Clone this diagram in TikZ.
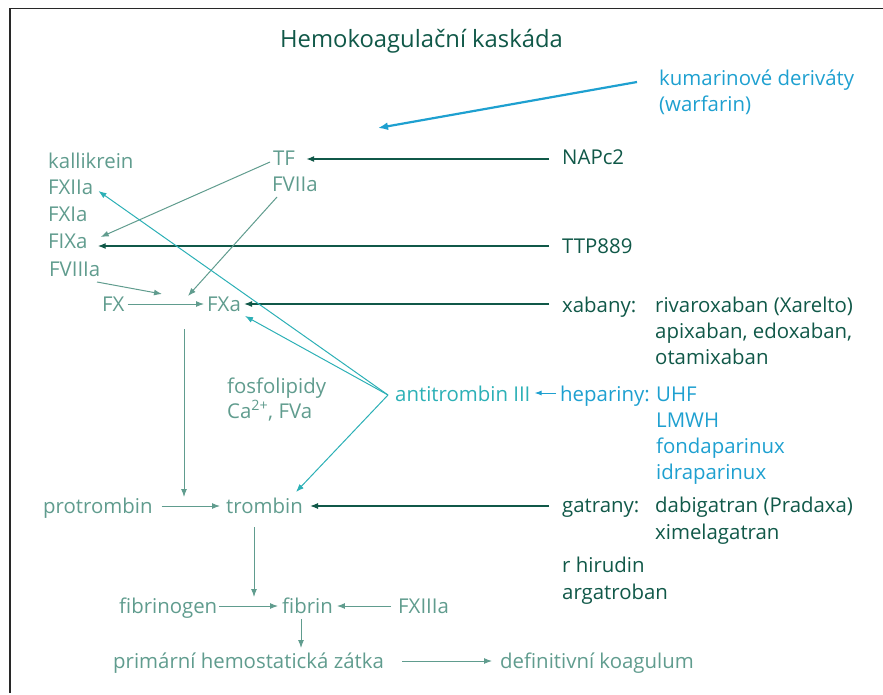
\documentclass[tikz,border=0pt]{standalone}
\usepackage{fontspec}
\setmainfont{Open Sans}
\usetikzlibrary{arrows.meta,calc}
\definecolor{dkg}{RGB}{16,88,72}
\definecolor{lgr}{RGB}{96,156,142}
\definecolor{cyn}{RGB}{44,176,182}
\definecolor{blu}{RGB}{30,160,208}
\definecolor{frm}{RGB}{40,40,40}
\begin{document}
\begin{tikzpicture}[x=1pt,y=-1pt,
  lbl/.style={anchor=base west,inner sep=0pt,font=\fontsize{20.4}{24}\selectfont},
  dk/.style={lbl,text=dkg},
  lg/.style={lbl,text=lgr},
  cy/.style={lbl,text=cyn},
  bl/.style={lbl,text=blu},
  darr/.style={draw=dkg,line width=1.2pt,-{Latex[length=8pt,width=6pt]}},
  garr/.style={draw=lgr,line width=1pt,-{Latex[length=8pt,width=6pt]}},
  carr/.style={draw=cyn,line width=1pt,-{Latex[length=8pt,width=6pt]}},
  barr/.style={draw=blu,line width=1pt,-{Latex[length=7pt,width=5pt]}},
  karr/.style={draw=blu,line width=2.2pt,-{Latex[length=10pt,width=8pt]}},
  frame/.style={draw=frm,line width=1.5pt}]
\useasboundingbox (0,0) rectangle (883,695);
\draw[frame] (10,693) -- (10,8.5) -- (883,8.5);
% title
\node[anchor=base,inner sep=0pt,text=dkg,font=\fontsize{23.8}{28}\selectfont] (title) at (421.5,48) {Hemokoagulační kaskáda};
% kumarin
\node[bl] (kum1) at (659,86) {kumarinové deriváty};
\node[bl] (kum2) at (659,112) {(warfarin)};
\coordinate (kumtip) at (378,128);
% left column
\node[lg] (kal) at (48,169) {kallikrein};
\node[lg] (fxiia) at (48,195) {FXIIa};
\node[lg] (fxia) at (48,222) {FXIa};
\node[lg] (fixa) at (48,248) {FIXa};
\node[lg] (fviiia) at (49,276) {FVIIIa};
\node[lg] (tf) at (273,166) {TF};
\node[lg] (fviia) at (272,192) {FVIIa};
\node[lg] (fx) at (102,311) {FX};
\node[lg] (fxa) at (207,311) {FXa};
\node[lg] (fos) at (227,393) {fosfolipidy};
\node[lg] (ca) at (227,418) {Ca\textsuperscript{2+}, FVa};
\node[lg] (protr) at (43,513) {protrombin};
\node[lg] (tromb) at (226,513) {trombin};
\node[lg] (fibg) at (119,613) {fibrinogen};
\node[lg] (fibrin) at (282,613) {fibrin};
\node[lg] (fxiii) at (398,613) {FXIIIa};
\node[lg] (prim) at (113,668) {primární hemostatická zátka};
\node[lg] (defi) at (500,668) {definitivní koagulum};
% right column
\node[dk] (napc) at (562,165) {NAPc2};
\node[dk] (ttp) at (562,253) {TTP889};
\node[dk] (xab) at (562,312) {xabany:};
\node[dk] (riv) at (655,312) {rivaroxaban (Xarelto)};
\node[dk] (api) at (655,338) {apixaban, edoxaban,};
\node[dk] (ota) at (655,364) {otamixaban};
\node[cy] (at) at (395,401) {antitrombin III};
\node[bl] (hep) at (560,401) {hepariny:};
\node[bl] (uhf) at (656,401) {UHF};
\node[bl] (lmwh) at (656,427) {LMWH};
\node[bl] (fonda) at (656,453) {fondaparinux};
\node[bl] (idra) at (656,479) {idraparinux};
\node[dk] (gat) at (562,512) {gatrany:};
\node[dk] (dabi) at (655,512) {dabigatran (Pradaxa)};
\node[dk] (xime) at (655,539) {ximelagatran};
\node[dk] (hir) at (562,572) {r hirudin};
\node[dk] (arga) at (562,599) {argatroban};
% coordinates
\coordinate (vtx) at ($(at.base west)+(-7,-6)$);
\coordinate (x1) at (188,296);
\coordinate (x2) at (162,294);
% connectors
\draw[karr] ($(kum1.base west)+(-22,-4)$) -- (kumtip);
\draw[darr] ($(napc.base west)+(-13,-6)$) -- ($(tf.base east)+(11,-7)$);
\draw[darr] ($(ttp.base west)+(-13,-7)$) -- ($(fixa.base east)+(10,-2)$);
\draw[darr] ($(xab.base west)+(-13,-8)$) -- ($(fxa.base east)+(3,-7)$);
\draw[darr] ($(gat.base west)+(-13,-6)$) -- ($(tromb.base east)+(7,-7)$);
\draw[barr] ($(hep.base west)+(-4,-8)$) -- ($(at.base east)+(4,-8)$);
\draw[garr] ($(fx.base east)+(3,-7)$) -- ($(fxa.base west)+(-3,-7)$);
\draw[garr] ($(tf.base west)+(-3,-4)$) -- ($(fixa.base east)+(13,-11)$);
\draw[garr] ($(fviia.base west)+(5,5)$) -- (x1);
\draw[garr] ($(fviiia.base west)+(48,6)$) -- (x2);
\draw[garr] ($(fxa.base west)+(-23,18)$) -- ($(tromb.base west)+(-42,-16)$);
\draw[garr] ($(protr.base east)+(9,-7)$) -- ($(tromb.base west)+(-6,-7)$);
\draw[carr] (vtx) -- ($(fxiia.base east)+(5,-4)$);
\draw[carr] (vtx) -- ($(fxa.base east)+(4,5)$);
\draw[carr] (vtx) -- ($(tromb.base east)+(-7,-21)$);
\draw[garr] ($(tromb.base west)+(28,14)$) -- ($(fibrin.base west)+(-28,-16)$);
\draw[garr] ($(fibg.base east)+(2,-7)$) -- ($(fibrin.base west)+(-4,-7)$);
\draw[garr] ($(fxiii.base west)+(-7,-7)$) -- ($(fibrin.base east)+(4,-7)$);
\draw[garr] ($(fibrin.base west)+(19,6)$) -- ($(prim.base west)+(188,-20)$);
\draw[garr] ($(prim.base east)+(18,-7)$) -- ($(defi.base west)+(-8,-7)$);
\end{tikzpicture}
\end{document}
